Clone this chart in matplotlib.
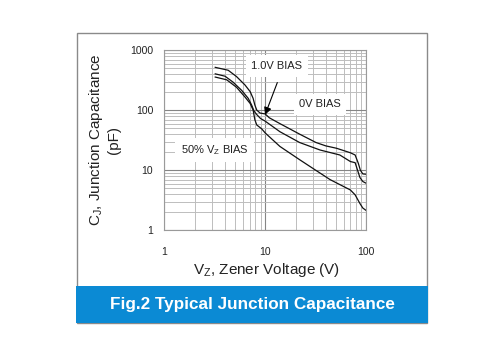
import numpy as np
import matplotlib
matplotlib.use('Agg')
import matplotlib.pyplot as plt
from matplotlib.patches import Rectangle

plt.rcParams['font.family'] = ['Liberation Sans', 'DejaVu Sans']
plt.rcParams['mathtext.default'] = 'regular'

# 0V bias (upper curve)
vz_0v = [3.2, 4.3, 5.2, 6.3, 7.1, 7.6, 7.9, 8.25, 8.9, 10, 11, 14, 22, 32, 40, 51, 70, 78, 84, 88, 93, 100]
cj_0v = [520, 465, 365, 265, 205, 158, 123, 101, 90, 87, 75, 60, 40, 29, 25.5, 23.3, 19.6, 18, 13, 10, 8.7, 8.6]

# 1.0V bias (middle curve)
vz_1v = [3.2, 4.0, 4.8, 5.85, 6.8, 7.35, 7.76, 8.25, 9.0, 10, 14, 22, 35, 55, 70, 78, 87, 93, 100]
cj_1v = [405, 370, 295, 215, 158, 122, 97, 85, 73, 66, 44, 29, 21.8, 18, 14, 13.4, 7.6, 6.5, 6.1]

# 50% Vz bias (lower curve)
vz_50 = [3.2, 4.16, 5.2, 6.3, 7.1, 7.6, 7.9, 8.25, 9.25, 10, 14, 22, 28, 44, 70, 78, 87, 93, 100]
cj_50 = [358, 322, 242, 167, 130, 101, 70, 57, 49, 42, 25, 15, 11.5, 7, 4.7, 3.9, 2.8, 2.35, 2.15]

xticks = [1, 10, 100]
xtick_labels = ['1', '10', '100']
yticks = [1, 10, 100, 1000]
ytick_labels = ['1', '10', '100', '1000']

fig = plt.figure(figsize=(5, 3.58), dpi=100)
W, H = 500, 358

def fx(px):
    return px / W

def fy(py):
    return 1 - py / H

# outer frame and blue caption banner
fig.patches.append(Rectangle((fx(77), fy(323)), fx(427) - fx(77), fy(33) - fy(323),
                             transform=fig.transFigure, fill=False, ec='#8a8a8a', lw=1.0))
fig.patches.append(Rectangle((fx(76), fy(323)), fx(428) - fx(76), fy(286) - fy(323),
                             transform=fig.transFigure, fc='#0b8ad4', ec='none'))
fig.text(fx(252), fy(305), 'Fig.2 Typical Junction Capacitance', color='white',
         fontsize=12.3, fontweight='bold', ha='center', va='center')

ax = fig.add_axes([fx(164.3), fy(230.3), fx(366) - fx(164.3), fy(50.3) - fy(230.3)])
ax.set_xscale('log')
ax.set_yscale('log')
ax.set_xlim(1, 100)
ax.set_ylim(1, 1000)

ax.grid(which='minor', color='#bdbdbd', lw=0.7)
ax.grid(which='major', color='#858585', lw=0.8)
ax.set_axisbelow(True)
for sp in ax.spines.values():
    sp.set_color('#9a9a9a')
    sp.set_linewidth(0.8)

ax.set_xticks(xticks)
ax.set_xticklabels(xtick_labels)
ax.set_yticks(yticks)
ax.set_yticklabels(ytick_labels)
ax.tick_params(which='both', length=0, labelsize=7.5, colors='#222222')
ax.tick_params(axis='x', pad=12)
ax.tick_params(axis='y', pad=8)

for v, c in [(vz_0v, cj_0v), (vz_1v, cj_1v), (vz_50, cj_50)]:
    ax.plot(v, c, color='#111111', lw=0.9)

box = dict(boxstyle='square,pad=0.5', fc='white', ec='none')
ax.text(13.0, 547, '1.0V BIAS', fontsize=8, ha='center', va='center', color='#222222', bbox=box)
ax.text(35, 127, '0V BIAS', fontsize=8, ha='center', va='center', color='#222222', bbox=box)
ax.text(3.18, 21.8, r'50% V$_{Z}$ BIAS', fontsize=8, ha='center', va='center', color='#222222', bbox=box)
ax.annotate('', xy=(9.75, 76), xytext=(13.5, 320),
            arrowprops=dict(arrowstyle='-|>', color='black', lw=0.8, mutation_scale=11))

fig.text(fx(267), fy(270), r'V$_{Z}$, Zener Voltage (V)', fontsize=11, ha='center', va='center',
         color='#222222')
fig.text(fx(104), fy(140), 'C$_{J}$, Junction Capacitance\n(pF)', fontsize=11, ha='center',
         va='center', rotation=90, color='#222222', linespacing=1.15)

fig.savefig('out.png', dpi=100)
